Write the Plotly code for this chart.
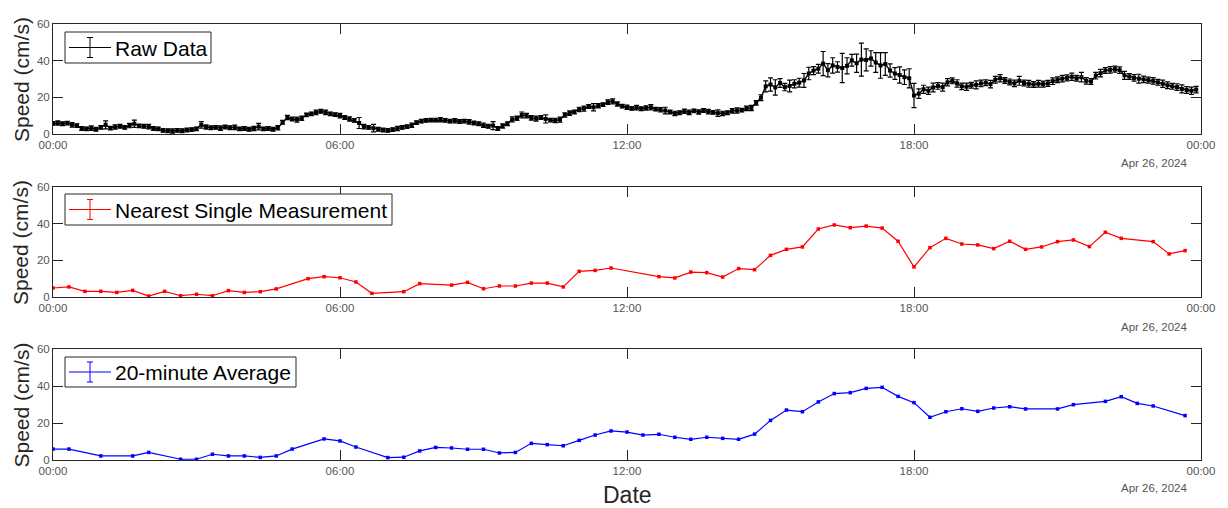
import pandas as pd
import plotly.graph_objects as go
from plotly.subplots import make_subplots

# ---- data -------------------------------------------------------------
day = pd.Timestamp("2024-04-26 00:00")

# raw record: one sample every 6 minutes, ten samples per hour
raw_speed = [
    5.8, 6.0, 5.6, 5.9, 5.0, 4.6, 3.0, 2.8, 3.2, 2.6,
    3.6, 5.0, 3.2, 3.8, 4.2, 3.6, 4.6, 5.6, 4.4, 4.2,
    4.0, 3.0, 2.8, 2.0, 1.8, 1.6, 2.0, 1.8, 2.2, 2.4,
    2.8, 5.0, 3.8, 3.4, 3.6, 3.2, 3.8, 3.4, 3.6, 2.8,
    3.0, 2.6, 3.0, 4.0, 2.8, 3.0, 2.6, 3.4, 6.4, 9.0,
    8.2, 7.8, 8.6, 10.4, 11.0, 11.8, 12.4, 11.8, 11.0, 10.6,
    10.0, 9.0, 8.2, 7.4, 6.0, 4.0, 3.6, 3.2, 2.6, 2.2,
    2.0, 2.4, 3.0, 3.6, 4.0, 4.8, 6.2, 7.0, 7.4, 7.6,
    7.6, 7.8, 7.4, 7.0, 7.2, 6.8, 7.0, 6.6, 6.0, 5.6,
    4.8, 4.2, 4.6, 3.0, 4.4, 5.6, 8.0, 8.6, 10.4, 10.0,
    8.8, 8.4, 9.0, 8.2, 7.6, 7.4, 7.8, 10.4, 11.4, 12.0,
    13.4, 13.8, 15.0, 14.6, 15.4, 16.0, 17.4, 17.8, 16.4, 15.2,
    14.6, 14.0, 14.4, 13.8, 14.2, 14.6, 13.6, 13.2, 12.8, 12.0,
    11.2, 11.6, 12.4, 11.8, 12.6, 12.0, 12.8, 12.2, 11.8, 11.4,
    11.2, 11.6, 12.6, 12.8, 13.0, 14.0, 14.2, 17.0, 19.8, 26.0,
    27.0, 25.4, 27.8, 25.6, 26.2, 27.4, 28.0, 29.2, 33.0, 34.6,
    35.6, 38.4, 34.8, 37.4, 36.6, 36.0, 37.2, 40.2, 38.6, 40.6,
    40.4, 41.2, 39.0, 37.4, 38.2, 34.6, 33.0, 32.2, 31.0, 30.4,
    21.0, 22.0, 24.4, 23.6, 25.4, 26.2, 25.6, 28.2, 29.0, 27.6,
    26.0, 25.8, 26.6, 26.8, 27.6, 28.0, 27.2, 29.6, 30.4, 29.2,
    28.4, 27.6, 29.0, 27.8, 27.4, 27.0, 27.4, 27.2, 27.6, 28.8,
    29.6, 30.2, 30.6, 31.2, 30.4, 31.0, 29.0, 28.6, 31.8, 33.2,
    34.6, 35.0, 35.4, 34.8, 32.0, 31.4, 30.6, 30.2, 29.8, 29.4,
    29.0, 28.2, 27.4, 26.6, 26.0, 25.6, 24.6, 24.0, 23.6, 24.2,
]
raw_err = [
    1.0, 1.2, 1.0, 1.0, 1.2, 1.0, 1.0, 1.0, 1.2, 1.0,
    1.0, 2.2, 1.0, 1.2, 1.0, 1.0, 1.2, 2.0, 1.0, 1.0,
    1.2, 1.0, 1.0, 1.0, 1.0, 1.2, 1.0, 1.0, 1.0, 1.0,
    1.0, 1.8, 1.2, 1.0, 1.0, 1.2, 1.0, 1.0, 1.2, 1.0,
    1.0, 1.0, 1.2, 1.8, 1.0, 1.0, 1.0, 1.2, 1.0, 1.2,
    1.0, 1.4, 1.2, 1.0, 1.0, 1.2, 1.0, 1.2, 1.0, 1.0,
    1.2, 1.0, 1.2, 1.0, 3.0, 1.2, 1.0, 2.0, 1.0, 1.0,
    1.0, 1.0, 1.2, 1.0, 1.0, 1.2, 1.0, 1.0, 1.0, 1.0,
    1.0, 1.2, 1.0, 1.0, 1.2, 1.0, 1.0, 1.2, 1.0, 1.0,
    1.2, 1.0, 2.2, 1.0, 1.2, 1.0, 1.4, 1.2, 1.6, 1.2,
    1.2, 1.4, 1.0, 2.2, 1.0, 1.2, 1.4, 1.2, 1.2, 1.0,
    1.2, 1.4, 1.0, 2.0, 1.2, 1.0, 1.2, 1.4, 1.2, 1.0,
    1.2, 1.0, 1.2, 1.0, 1.2, 1.4, 1.0, 1.2, 1.8, 1.0,
    1.2, 1.0, 1.2, 1.2, 1.0, 1.2, 1.0, 1.2, 1.0, 1.8,
    1.2, 1.0, 1.2, 1.4, 1.0, 1.2, 1.4, 1.2, 1.6, 3.0,
    3.6, 4.2, 2.4, 2.0, 3.2, 2.2, 2.4, 3.8, 3.4, 2.2,
    2.4, 6.6, 3.6, 4.2, 2.8, 8.0, 4.4, 3.2, 5.0, 9.0,
    6.0, 4.2, 5.4, 7.0, 6.2, 3.6, 3.2, 4.4, 4.0, 5.2,
    6.6, 2.6, 2.2, 2.0, 2.4, 1.8, 2.2, 2.0, 1.6, 2.0,
    1.8, 2.0, 1.6, 2.2, 1.8, 1.6, 2.0, 1.8, 2.0, 1.6,
    1.6, 1.8, 2.4, 1.6, 1.8, 1.6, 1.8, 1.6, 1.6, 1.8,
    1.6, 1.8, 1.6, 2.0, 1.6, 2.6, 1.8, 1.6, 1.8, 2.0,
    1.6, 1.8, 1.6, 1.8, 2.2, 1.6, 1.8, 2.4, 1.8, 1.6,
    1.8, 1.6, 2.0, 1.8, 1.6, 1.8, 2.2, 1.8, 2.0, 1.8,
]
raw_times = pd.date_range(day, periods=len(raw_speed), freq="6min")

# nearest single measurement to each 20-minute slot (minutes after midnight)
nearest_min = [
    0, 20, 40, 60, 80, 100, 120, 140, 160, 180, 200, 220, 240, 260, 280,
    320, 340, 360, 380, 400, 440, 460, 500, 520, 540, 560, 580, 600, 620,
    640, 660, 680, 700, 760, 780, 800, 820, 840, 860, 880, 900, 920, 940,
    960, 980, 1000, 1020, 1040, 1060, 1080, 1100, 1120, 1140, 1160, 1180,
    1200, 1220, 1240, 1260, 1280, 1300, 1320, 1340, 1380, 1400, 1420,
]
nearest_speed = [
    4.9, 5.5, 3.1, 3.1, 2.5, 3.6, 0.5, 3.1, 0.7, 1.5, 0.7, 3.5, 2.5, 2.9, 4.4,
    10.0, 11.1, 10.5, 8.2, 2.0, 2.9, 7.3, 6.5, 8.0, 4.5, 6.0, 6.0, 7.6, 7.6,
    5.5, 14.0, 14.5, 15.8, 11.1, 10.4, 13.6, 13.3, 10.9, 15.5, 14.9, 22.7, 26.0, 27.3,
    37.1, 39.3, 37.8, 38.7, 37.6, 30.4, 16.4, 26.9, 32.0, 28.9, 28.4, 26.4,
    30.4, 26.0, 27.3, 30.2, 31.1, 27.5, 35.3, 32.0, 30.2, 23.5, 25.3,
]

# 20-minute block averages (minutes after midnight)
avg_min = [
    0, 20, 60, 100, 120, 160, 180, 200, 220, 240, 260, 280, 300, 340, 360,
    380, 420, 440, 460, 480, 500, 520, 540, 560, 580, 600, 620, 640, 660,
    680, 700, 720, 740, 760, 780, 800, 820, 840, 860, 880, 900, 920, 940,
    960, 980, 1000, 1020, 1040, 1060, 1080, 1100, 1120, 1140, 1160, 1180,
    1200, 1220, 1260, 1280, 1320, 1340, 1360, 1380, 1420,
]
avg_speed = [
    5.9, 5.9, 2.2, 2.2, 4.1, 0.4, 0.4, 3.1, 2.2, 2.2, 1.4, 2.2, 5.9, 11.4, 10.3,
    7.0, 1.3, 1.5, 4.9, 6.8, 6.5, 5.8, 5.8, 3.8, 4.1, 9.0, 8.3, 7.7, 10.6,
    13.5, 15.7, 15.1, 13.5, 13.9, 12.3, 11.2, 12.3, 11.7, 11.2, 14.0, 21.4, 27.0, 26.1,
    31.4, 35.9, 36.4, 38.7, 39.3, 34.4, 31.0, 23.1, 26.1, 27.7, 26.3, 28.1,
    28.8, 27.6, 27.6, 29.9, 31.7, 34.2, 30.6, 29.2, 24.0,
]

series = [
    ("Raw Data", raw_times, raw_speed, raw_err, "#000000"),
    ("Nearest Single Measurement", day + pd.to_timedelta(nearest_min, unit="min"),
     nearest_speed, None, "#ff0000"),
    ("20-minute Average", day + pd.to_timedelta(avg_min, unit="min"),
     avg_speed, None, "#0000ff"),
]

y_ticks = [0, 20, 40, 60]
x_ticks = [day + pd.Timedelta(hours=h) for h in (0, 6, 12, 18, 24)]
x_tick_text = ["00:00", "06:00", "12:00", "18:00", "00:00"]
date_label = "Apr 26, 2024"

# ---- layout geometry (pixels) ----------------------------------------
W, H = 1228, 508
ML, MR, MT, MB = 53, 27, 24, 48
PW, PH = W - ML - MR, H - MT - MB
panel_px = [(24, 134), (187, 297), (349, 460)]   # top, bottom of each panel
legend_px = [(65, 211, 32, 63), (65, 392, 194, 225), (65, 296, 357, 387)]
date_y = [163, 327, 488]


def fx(px):
    return (px - ML) / PW


def fy(py):
    return (H - MB - py) / PH


AX = "#262626"
TICK_FONT = dict(family="Liberation Sans, Arial, sans-serif", size=11.5, color="#555555")
TEXT_FONT = "Liberation Sans, Arial, sans-serif"

fig = make_subplots(rows=3, cols=1)

for i, (name, t, v, err, color) in enumerate(series):
    row = i + 1
    kw = {}
    if err is not None:
        kw["error_y"] = dict(type="data", array=err, visible=True,
                             color=color, thickness=1.2, width=2.5)
    fig.add_trace(
        go.Scatter(
            x=t, y=v, mode="lines+markers", name=name, showlegend=False,
            line=dict(color=color, width=1.4 if err is not None else 1.2),
            marker=dict(color=color, size=4 if err is not None else 3.5,
                        symbol="square"),
            **kw,
        ),
        row=row, col=1,
    )

    top, bot = panel_px[i]
    fig.update_yaxes(
        domain=[fy(bot), fy(top)], range=[0, 60], tickvals=y_ticks,
        showline=True, linecolor=AX, linewidth=1, mirror="ticks",
        ticks="inside", ticklen=10, tickcolor=AX, tickwidth=1,
        showgrid=False, zeroline=False, tickfont=TICK_FONT,
        row=row, col=1,
    )
    fig.update_xaxes(
        type="date", range=[x_ticks[0], x_ticks[-1]],
        tickvals=x_ticks, ticktext=x_tick_text,
        showline=True, linecolor=AX, linewidth=1, mirror="ticks",
        ticks="inside", ticklen=10, tickcolor=AX, tickwidth=1,
        showgrid=False, zeroline=False, tickfont=TICK_FONT,
        row=row, col=1,
    )

    # y-axis title
    fig.add_annotation(
        x=fx(21), y=fy((top + bot) / 2 + 1), xref="paper", yref="paper",
        text="Speed (cm/s)", textangle=-90, showarrow=False,
        xanchor="center", yanchor="middle",
        font=dict(family=TEXT_FONT, size=21, color=AX),
    )
    # date stamp under the right end of the time axis
    fig.add_annotation(
        x=fx(1189), y=fy(date_y[i]), xref="paper", yref="paper",
        text=date_label, showarrow=False, xanchor="right", yanchor="middle",
        font=dict(family=TEXT_FONT, size=11.5, color="#555555"),
    )

    # legend box with an error-bar glyph
    lx0, lx1, ly0, ly1 = legend_px[i]
    cy = (ly0 + ly1) / 2
    fig.add_shape(type="rect", xref="paper", yref="paper",
                  x0=fx(lx0), x1=fx(lx1), y0=fy(ly1), y1=fy(ly0),
                  line=dict(color=AX, width=1), fillcolor="white", layer="above")
    fig.add_shape(type="line", xref="paper", yref="paper",
                  x0=fx(69), x1=fx(111), y0=fy(cy), y1=fy(cy),
                  line=dict(color=color, width=1), layer="above")
    fig.add_shape(type="line", xref="paper", yref="paper",
                  x0=fx(90), x1=fx(90), y0=fy(cy - 10), y1=fy(cy + 10),
                  line=dict(color=color, width=1), layer="above")
    for dy in (-10, 10):
        fig.add_shape(type="line", xref="paper", yref="paper",
                      x0=fx(87), x1=fx(93), y0=fy(cy + dy), y1=fy(cy + dy),
                      line=dict(color=color, width=1), layer="above")
    fig.add_annotation(
        x=fx(113), y=fy(cy + 0.5), xref="paper", yref="paper",
        text=name, showarrow=False, xanchor="left", yanchor="middle",
        font=dict(family=TEXT_FONT, size=21, color="#000000"),
    )

# shared x title
fig.add_annotation(
    x=fx(627), y=fy(495), xref="paper", yref="paper", text="Date",
    showarrow=False, xanchor="center", yanchor="middle",
    font=dict(family=TEXT_FONT, size=23, color=AX),
)

fig.update_layout(
    width=W, height=H,
    margin=dict(l=ML, r=MR, t=MT, b=MB, pad=0),
    paper_bgcolor="white", plot_bgcolor="white",
    showlegend=False,
)

fig.write_html("out.html")
